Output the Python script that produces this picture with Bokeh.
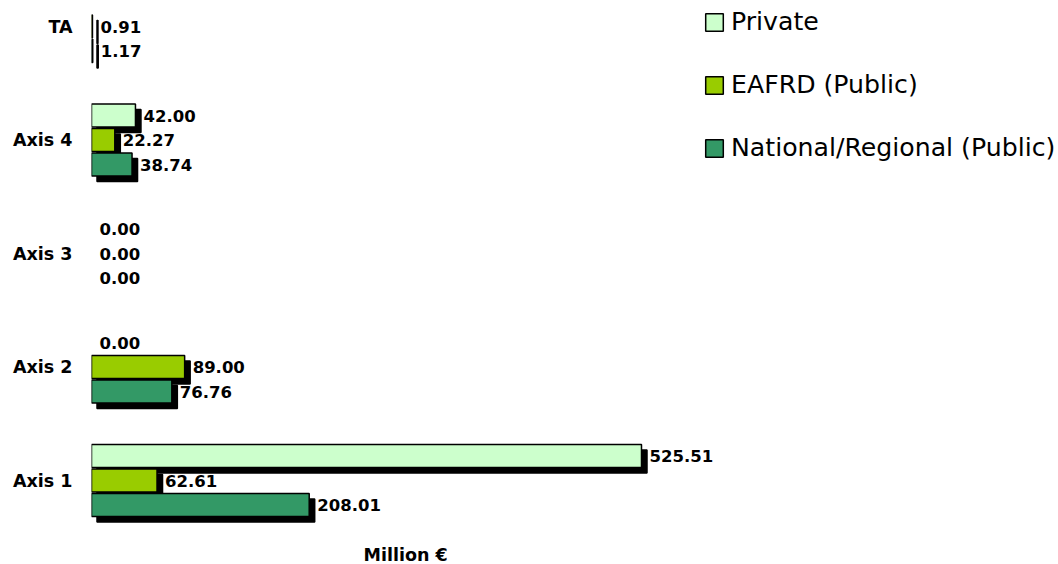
import math
from bokeh.plotting import figure
from bokeh.models import ColumnDataSource, FixedTicker, Legend, LegendItem, Title
from bokeh.transform import dodge
from bokeh.core.properties import value
from bokeh.embed import file_html
from bokeh.resources import INLINE

# ---- data ----
categories = ["Axis 1", "Axis 2", "Axis 3", "Axis 4", "TA"]
private = [525.51, 0.00, 0.00, 42.00, float("nan")]
eafrd = [62.61, 89.00, 0.00, 22.27, 0.91]
national = [208.01, 76.76, 0.00, 38.74, 1.17]
series_names = ["Private", "EAFRD (Public)", "National/Regional (Public)"]
series_values = [private, eafrd, national]
series_colors = ["#CCFFCC", "#99CC00", "#339966"]
x_title = "Million €"

# ---- layout constants ----
W, H = 1058, 564
FL, FR, FT, FB = 91, 1058, 0, 542          # frame edges in pixels
PX_PER_X = 1.0466
PX_PER_CAT = 113.5
AXIS1_PIX = 480
x_end = (FR - FL) / PX_PER_X
y_top = (AXIS1_PIX - FT) / PX_PER_CAT
y_bot = (AXIS1_PIX - FB) / PX_PER_CAT

slot = 24.5 / PX_PER_CAT
bar_h = 23.0 / PX_PER_CAT
sh_dx = 5.5 / PX_PER_X
sh_dy = 5.5 / PX_PER_CAT
offsets = [slot, 0.0, -slot]
FONT = "DejaVu Sans"

p = figure(width=W, height=H, output_backend="svg", toolbar_location=None,
           x_range=(0, x_end), y_range=(y_bot, y_top),
           min_border_left=FL, min_border_right=W - FR,
           min_border_top=FT, min_border_bottom=H - FB)
p.outline_line_color = None
p.grid.visible = False
p.background_fill_color = "white"

# y axis: category labels
p.yaxis.ticker = FixedTicker(ticks=list(range(len(categories))))
p.yaxis.major_label_overrides = {i: c for i, c in enumerate(categories)}
p.yaxis.axis_line_color = None
p.yaxis.major_tick_line_color = None
p.yaxis.minor_tick_line_color = None
p.yaxis.major_tick_in = 0
p.yaxis.major_tick_out = 0
p.yaxis.major_label_standoff = 19
p.yaxis.major_label_text_font = FONT
p.yaxis.major_label_text_font_size = "17.5px"
p.yaxis.major_label_text_font_style = "bold"
p.yaxis.major_label_text_color = "black"

p.xaxis.visible = False

title = Title(text=x_title, align="left", offset=272, standoff=0,
              text_font=FONT, text_font_size="17.5px", text_font_style="bold",
              text_color="black")
p.add_layout(title, "below")

renderers = []
for name, vals, col, off in zip(series_names, series_values, series_colors, offsets):
    ys = [i + off for i in range(len(categories))]
    bx = [v for v in vals if not math.isnan(v) and v > 0]
    by = [y for v, y in zip(vals, ys) if not math.isnan(v) and v > 0]
    bars = ColumnDataSource(dict(y=by, right=bx, left=[0.0] * len(bx)))
    p.hbar(y=dodge("y", -sh_dy), left=dodge("left", sh_dx), right=dodge("right", sh_dx),
           height=bar_h, source=bars, fill_color="black", line_color="black", line_width=1.5)
    r = p.hbar(y="y", left="left", right="right", height=bar_h, source=bars,
               fill_color=col, line_color="black", line_width=1.5)
    renderers.append(r)
    lx = [v for v in vals if not math.isnan(v)]
    ly = [y for v, y in zip(vals, ys) if not math.isnan(v)]
    labs = ColumnDataSource(dict(x=lx, y=ly, t=["%.2f" % v for v in lx]))
    p.text(x="x", y="y", text="t", source=labs, x_offset=8, text_align="left",
           text_baseline="middle", text_font=value(FONT), text_font_size="16.5px",
           text_font_style="bold", text_color="black")

legend = Legend(items=[LegendItem(label=n, renderers=[r]) for n, r in zip(series_names, renderers)],
                location=(612, FB - 162.5), orientation="vertical",
                glyph_width=22, glyph_height=22, label_standoff=6,
                label_height=30, spacing=33, padding=0, margin=0,
                border_line_color=None, background_fill_alpha=0,
                label_text_font=FONT, label_text_font_size="25.2px", label_text_color="black")
p.add_layout(legend, "center")

open("out.html", "w").write(file_html(p, INLINE))
